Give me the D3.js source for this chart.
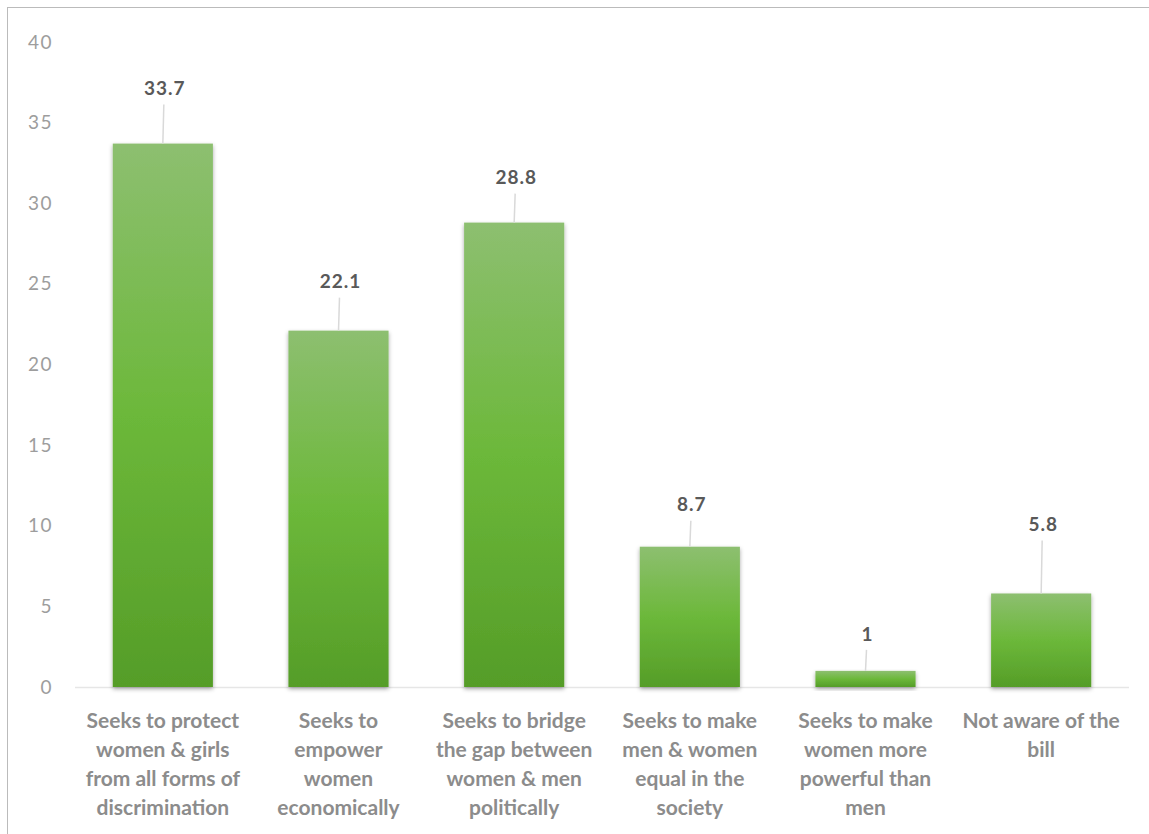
<!DOCTYPE html>
<html><head><meta charset="utf-8">
<script src="https://cdn.jsdelivr.net/npm/d3@7"></script>
<style>body{margin:0;background:#fff;}svg{display:block;}</style>
</head><body>
<svg id="c" width="1149" height="834"></svg>
<script>
const categories = [
  ["Seeks to protect","women & girls","from all forms of","discrimination"],
  ["Seeks to","empower","women","economically"],
  ["Seeks to bridge","the gap between","women & men","politically"],
  ["Seeks to make","men & women","equal in the","society"],
  ["Seeks to make","women more","powerful than","men"],
  ["Not aware of the","bill"]
];
const values = [33.7, 22.1, 28.8, 8.7, 1, 5.8];
const yTicks = [0,5,10,15,20,25,30,35,40];

const svg = d3.select("#c");
const W = 1149, H = 834;
const m = {left:75, right:20, top:42, bottom:147};
const x = d3.scaleBand().domain(d3.range(values.length)).range([m.left, W-m.right]).paddingInner(0.43).paddingOuter(0.215);
const y = d3.scaleLinear().domain([0,40]).range([H-m.bottom, m.top]);

// border
svg.append("rect").attr("x",7.5).attr("y",7.5).attr("width",W+10).attr("height",H+10)
  .attr("fill","none").attr("stroke","#777").attr("stroke-dasharray","1,1");

const defs = svg.append("defs");
const g = defs.append("linearGradient").attr("id","grad").attr("x1",0).attr("y1",0).attr("x2",0).attr("y2",1);
g.append("stop").attr("offset","0%").attr("stop-color","#8dbf70");
g.append("stop").attr("offset","50%").attr("stop-color","#6cb83a");
g.append("stop").attr("offset","100%").attr("stop-color","#559d28");
const f = defs.append("filter").attr("id","sh").attr("x","-10%").attr("y","-10%").attr("width","120%").attr("height","130%");
f.append("feDropShadow").attr("dx",0).attr("dy",2).attr("stdDeviation",2).attr("flood-color","#000").attr("flood-opacity",0.35);

// y axis
const yAxis = d3.axisLeft(y).tickValues(yTicks).tickSize(0).tickPadding(0);
const ya = svg.append("g").attr("transform",`translate(53,0)`).call(yAxis);
ya.select(".domain").remove();
ya.selectAll("text").attr("font-family","Lato, 'Open Sans', sans-serif").attr("font-size",19)
  .attr("letter-spacing",1.5).attr("fill","#9d9d9d");

// baseline
svg.append("line").attr("x1",m.left).attr("x2",W-m.right).attr("y1",y(0)+0.5).attr("y2",y(0)+0.5)
  .attr("stroke","#e6e6e6").attr("stroke-width",1.5);

// bars
svg.selectAll("rect.bar").data(values).join("rect").attr("class","bar")
  .attr("x",(d,i)=>x(i)).attr("width",x.bandwidth())
  .attr("y",d=>y(d)).attr("height",d=>y(0)-y(d))
  .attr("fill","url(#grad)").attr("filter","url(#sh)");

// data labels with leader lines
const labelLift = [55, 49, 45, 42, 37, 69];
const lab = svg.selectAll("g.lab").data(values).join("g").attr("class","lab");
lab.append("line")
  .attr("x1",(d,i)=>x(i)+x.bandwidth()/2+1).attr("x2",(d,i)=>x(i)+x.bandwidth()/2)
  .attr("y1",(d,i)=>y(d)-labelLift[i]+16).attr("y2",d=>y(d))
  .attr("stroke","#d9d9d9").attr("stroke-width",1.5);
lab.append("text")
  .attr("x",(d,i)=>x(i)+x.bandwidth()/2+2).attr("y",(d,i)=>y(d)-labelLift[i])
  .attr("dy","0.35em").attr("text-anchor","middle")
  .attr("font-family","Lato, 'Open Sans', sans-serif").attr("font-weight","bold").attr("font-size",19)
  .attr("letter-spacing",1).attr("fill","#595959").text(d=>d);

// category labels
const cl = svg.selectAll("text.cat").data(categories).join("text").attr("class","cat")
  .attr("x",(d,i)=>x(i)+x.bandwidth()/2).attr("y",y(0)+41)
  .attr("text-anchor","middle").attr("font-family","Lato, 'Open Sans', sans-serif")
  .attr("font-weight","bold").attr("font-size",21).attr("fill","#8c8c8c");
cl.selectAll("tspan").data(d=>d).join("tspan")
  .attr("x",function(){return this.parentNode.getAttribute("x");})
  .attr("dy",(d,i)=>i===0?0:29).text(d=>d);
</script>
</body></html>
